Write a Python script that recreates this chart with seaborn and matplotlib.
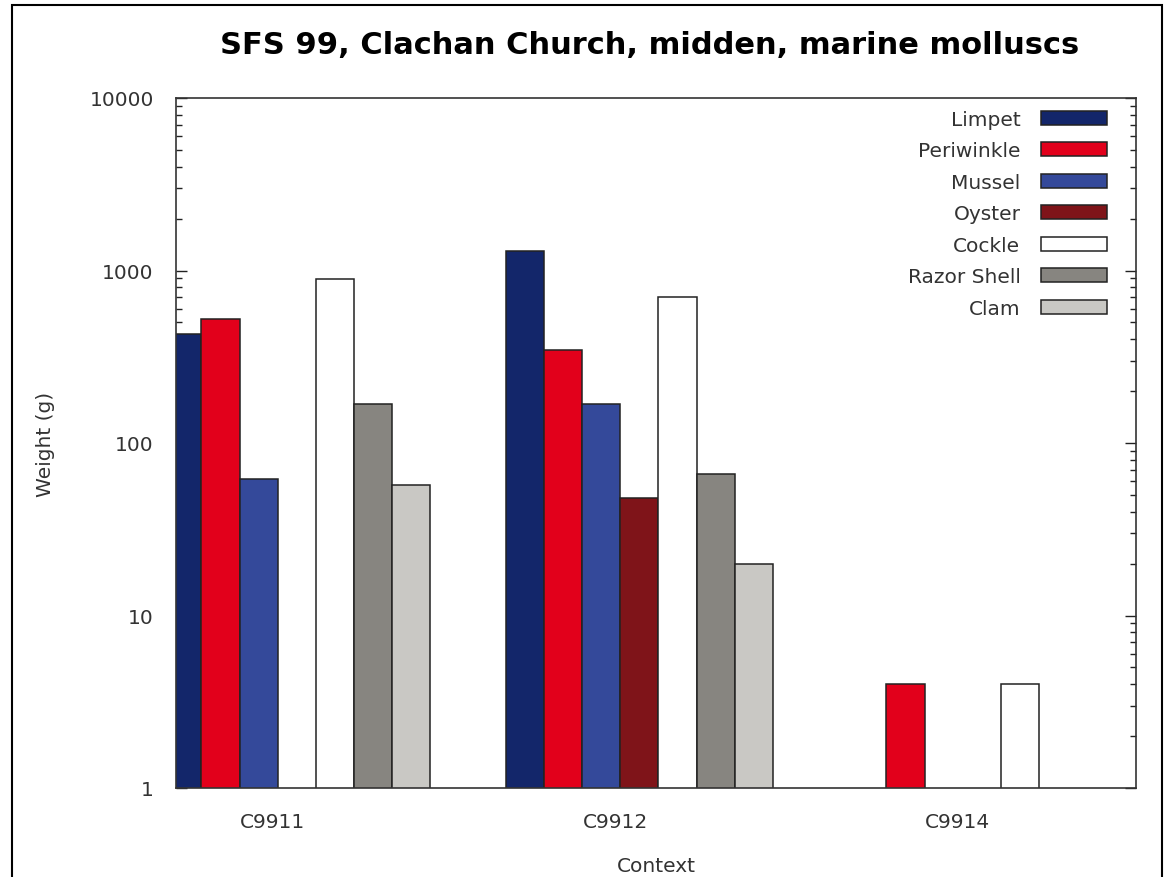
import numpy as np
import pandas as pd
import seaborn as sns
import matplotlib
matplotlib.use("Agg")
import matplotlib.pyplot as plt
from matplotlib.patches import Rectangle

sns.set_style("white")
plt.rcParams['font.family'] = ['DejaVu Sans']

# data (weights in g, nan = no bar)
contexts = ["C9911", "C9912", "C9914"]
species = ["Limpet", "Periwinkle", "Mussel", "Oyster", "Cockle", "Razor Shell", "Clam"]
limpet = [430, 1300, np.nan]
periwinkle = [520, 345, 4]
mussel = [62, 168, np.nan]
oyster = [np.nan, 48, np.nan]
cockle = [890, 700, 4]
razor = [168, 66, np.nan]
clam = [57, 20, np.nan]
colors = ["#13266a", "#e2001b", "#34499a", "#7f1419", "#ffffff", "#878580", "#c9c8c4"]

series = [limpet, periwinkle, mussel, oyster, cockle, razor, clam]
rows = []
for sp, vals in zip(species, series):
    for ctx, v in zip(contexts, vals):
        rows.append({"Context": ctx, "Species": sp, "Weight": v})
df = pd.DataFrame(rows)

fig = plt.figure(figsize=(11.66, 8.78), dpi=100)
ax = fig.add_axes([176/1166, 1-789/878, 960/1166, 690/878])

sns.barplot(data=df, x="Context", y="Weight", hue="Species",
            order=contexts, hue_order=species, palette=colors, saturation=1,
            width=0.78, errorbar=None, edgecolor="#222222", linewidth=1.1,
            ax=ax)
ax.set_yscale("log")
ax.set_ylim(1, 10000)
ax.set_xlim(-0.353, 2.45)

txtc = "#333333"
fs = 14.5
ax.set_xticks([i - 0.07 for i in range(len(contexts))])
ax.set_xticklabels(contexts)
ax.set_yticks([1, 10, 100, 1000, 10000])
ax.set_yticklabels(["1", "10", "100", "1000", "10000"])
ax.tick_params(axis="both", which="both", direction="in", colors="#222222",
               labelcolor=txtc, labelsize=fs)
ax.tick_params(axis="y", which="major", length=8, width=1, right=True, left=True, pad=16)
ax.tick_params(axis="y", which="minor", length=4, width=1, right=True, left=True)
ax.tick_params(axis="x", which="major", length=8, width=1, top=False, pad=17)
for s in ax.spines.values():
    s.set_color("#333333")
    s.set_linewidth(1.2)
ax.set_xlabel("Context", fontsize=fs, color=txtc, labelpad=18)
ax.set_ylabel("Weight (g)", fontsize=fs, color=txtc, labelpad=25)
ax.grid(False)

fig.text(0.557, 0.948, "SFS 99, Clachan Church, midden, marine molluscs",
         ha="center", va="center", fontsize=22, fontweight="bold",
         color="black")

handles, labels = ax.get_legend_handles_labels()
for h in handles:
    h.set_edgecolor("#222222")
    h.set_linewidth(1.1)
leg = ax.legend(handles, labels, loc="upper right", markerfirst=False,
                frameon=False, fontsize=fs, handlelength=3.3, handleheight=0.7,
                handletextpad=1.0, labelspacing=0.62,
                bbox_to_anchor=(1107/1166, 1-111/878), bbox_transform=fig.transFigure,
                borderaxespad=0, borderpad=0)
for t in leg.get_texts():
    t.set_color(txtc)

# outer frame of the picture
fig.patches.append(Rectangle((12/1166, -0.05), (1162-12)/1166, 1.05-6/878,
                             transform=fig.transFigure, fill=False,
                             edgecolor="black", linewidth=1.5))

fig.savefig("out.png", dpi=100)
